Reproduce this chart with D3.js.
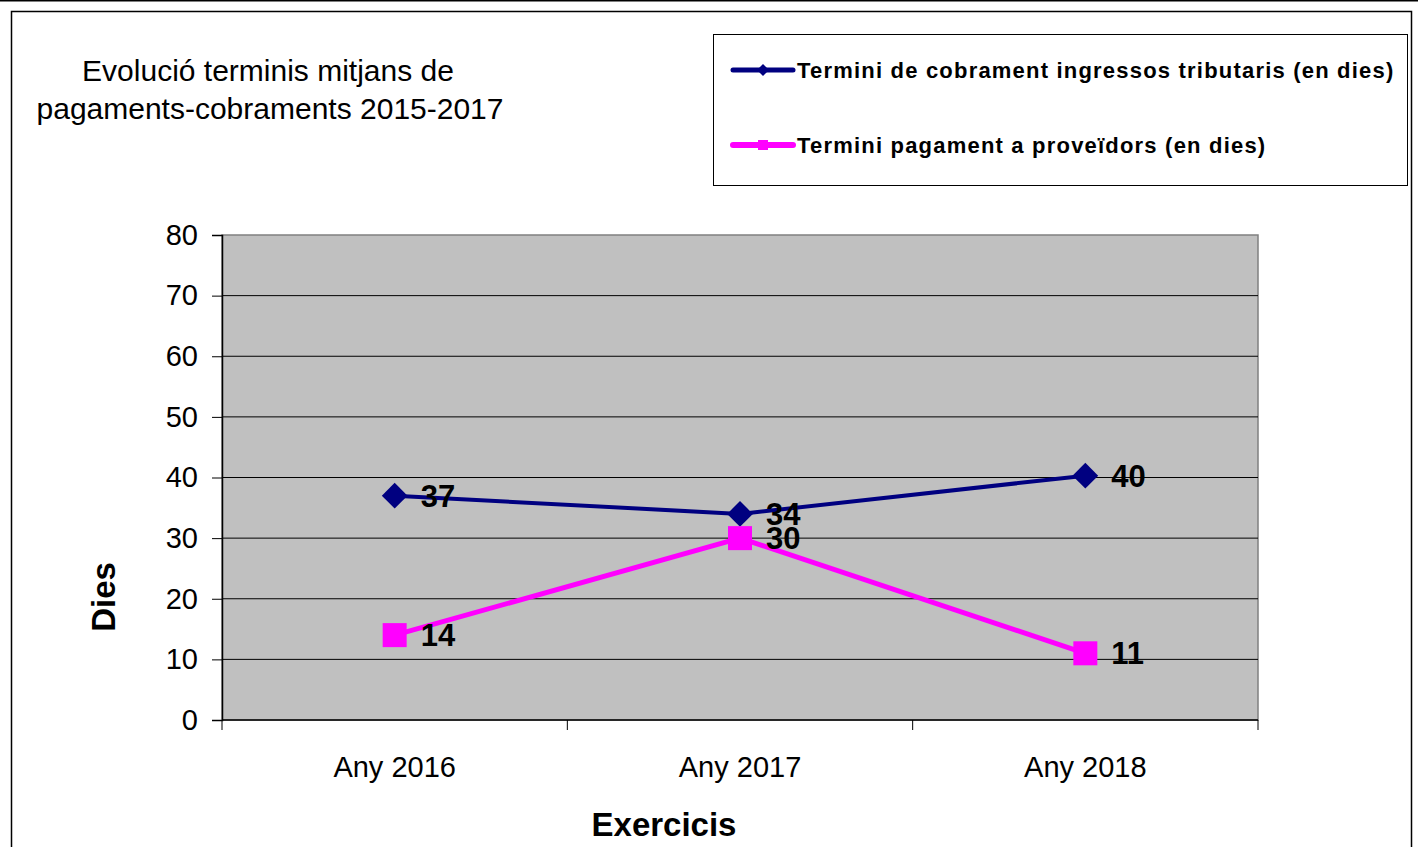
<!DOCTYPE html>
<html>
<head>
<meta charset="utf-8">
<script src="https://cdn.jsdelivr.net/npm/d3@7"></script>
<style>
  body { margin: 0; background: #fff; }
  svg { display: block; font-family: "Liberation Sans", Arial, sans-serif; }
</style>
</head>
<body>
<div id="chart"></div>
<script>
// values
const categories = ["Any 2016", "Any 2017", "Any 2018"];
const cobrament = [37, 34, 40.3];
const pagament = [14, 30, 11];
const seriesNames = [
  "Termini de cobrament ingressos tributaris (en dies)",
  "Termini pagament a proveïdors (en dies)"
];
const yTicks = [0, 10, 20, 30, 40, 50, 60, 70, 80];

const W = 1418, H = 847;
const plot = { left: 222, right: 1258, top: 235, bottom: 720 };

const svg = d3.select("#chart").append("svg")
  .attr("width", W)
  .attr("height", H);

// page frame
svg.append("line").attr("x1", 0).attr("x2", W).attr("y1", 0.5).attr("y2", 0.5)
  .attr("stroke", "#000").attr("stroke-width", 2);
svg.append("rect")
  .attr("x", 11.5).attr("y", 11.5).attr("width", 1400).attr("height", H)
  .attr("fill", "none").attr("stroke", "#000").attr("stroke-width", 1.5);

const x = d3.scaleBand()
  .domain(categories)
  .range([plot.left, plot.right]);

const y = d3.scaleLinear()
  .domain([0, 80])
  .range([plot.bottom, plot.top]);

// plot area
svg.append("rect")
  .attr("x", plot.left).attr("y", plot.top)
  .attr("width", plot.right - plot.left).attr("height", plot.bottom - plot.top)
  .attr("fill", "#c0c0c0")
  .attr("stroke", "#808080").attr("stroke-width", 1.5);

// gridlines
svg.append("g")
  .selectAll("line")
  .data(yTicks.filter(d => d > 0 && d < 80))
  .join("line")
  .attr("x1", plot.left).attr("x2", plot.right)
  .attr("y1", d => y(d)).attr("y2", d => y(d))
  .attr("stroke", "#000").attr("stroke-width", 1);

// y axis
const yAxis = svg.append("g")
  .attr("transform", `translate(${plot.left},0)`)
  .call(d3.axisLeft(y).tickValues(yTicks).tickSize(10).tickPadding(14));
yAxis.select(".domain").attr("stroke", "#000").attr("stroke-width", 1.5);
yAxis.selectAll(".tick line").attr("stroke", "#000");
yAxis.selectAll(".tick text")
  .attr("font-size", 29).attr("font-family", "Liberation Sans, Arial, sans-serif")
  .attr("fill", "#000");

// x axis: ticks between categories
const xAxis = svg.append("g")
  .attr("transform", `translate(0,${plot.bottom})`);
xAxis.append("line")
  .attr("x1", plot.left).attr("x2", plot.right)
  .attr("stroke", "#000").attr("stroke-width", 1.5);
const bounds = categories.map(c => x(c)).concat([x(categories[categories.length - 1]) + x.bandwidth()]);
xAxis.selectAll(".sep")
  .data(bounds)
  .join("line")
  .attr("class", "sep")
  .attr("x1", d => d).attr("x2", d => d)
  .attr("y1", 0).attr("y2", 10)
  .attr("stroke", "#000");
xAxis.selectAll(".cat")
  .data(categories)
  .join("text")
  .attr("class", "cat")
  .attr("x", d => x(d) + x.bandwidth() / 2)
  .attr("y", 57)
  .attr("text-anchor", "middle")
  .attr("font-size", 29)
  .text(d => d);

// axis titles
svg.append("text")
  .attr("x", 664).attr("y", 836)
  .attr("text-anchor", "middle")
  .attr("font-size", 33).attr("font-weight", "bold")
  .text("Exercicis");
svg.append("text")
  .attr("transform", "translate(115,597) rotate(-90)")
  .attr("text-anchor", "middle")
  .attr("font-size", 33).attr("font-weight", "bold")
  .text("Dies");

// chart title
const title = svg.append("text")
  .attr("text-anchor", "middle")
  .attr("font-size", 30);
title.append("tspan").attr("x", 268).attr("y", 81).text("Evolució terminis mitjans de");
title.append("tspan").attr("x", 270).attr("y", 119).text("pagaments-cobraments 2015-2017");

// series
const cx = d => x(d) + x.bandwidth() / 2;
const series = [
  { values: cobrament, color: "#000080", width: 4, shape: d3.symbolSquare, rot: 45, size: 330, legSize: 72 },
  { values: pagament, color: "#ff00ff", width: 5, shape: d3.symbolSquare, rot: 0, size: 576, legSize: 100 }
];

const line = d3.line()
  .x((d, i) => cx(categories[i]))
  .y(d => y(d));

series.forEach(s => {
  svg.append("path")
    .attr("d", line(s.values))
    .attr("fill", "none")
    .attr("stroke", s.color)
    .attr("stroke-width", s.width);
  svg.append("g")
    .selectAll("path")
    .data(s.values)
    .join("path")
    .attr("transform", (d, i) => `translate(${cx(categories[i])},${y(d)}) rotate(${s.rot})`)
    .attr("d", d3.symbol().type(s.shape).size(s.size))
    .attr("fill", s.color);
});

// data labels
series.forEach(s => {
  svg.append("g")
    .selectAll("text")
    .data(s.values)
    .join("text")
    .attr("x", (d, i) => cx(categories[i]) + 26)
    .attr("y", d => y(d) + 11)
    .attr("font-size", 31).attr("font-weight", "bold")
    .text(d => d3.format(".0f")(d));
});

// legend
const legend = svg.append("g");
legend.append("rect")
  .attr("x", 713.5).attr("y", 34.5).attr("width", 694).attr("height", 151)
  .attr("fill", "#fff").attr("stroke", "#000").attr("stroke-width", 1);
const legY = [70, 145];
series.forEach((s, i) => {
  legend.append("line")
    .attr("x1", 733).attr("x2", 793)
    .attr("y1", legY[i]).attr("y2", legY[i])
    .attr("stroke", s.color).attr("stroke-width", s.width + 1)
    .attr("stroke-linecap", "round");
  legend.append("path")
    .attr("transform", `translate(763,${legY[i]}) rotate(${s.rot})`)
    .attr("d", d3.symbol().type(s.shape).size(s.legSize))
    .attr("fill", s.color);
  legend.append("text")
    .attr("x", 797).attr("y", legY[i] + 8)
    .attr("font-size", 22).attr("font-weight", "bold")
    .attr("letter-spacing", 1.2)
    .text(seriesNames[i]);
});
</script>
</body>
</html>
